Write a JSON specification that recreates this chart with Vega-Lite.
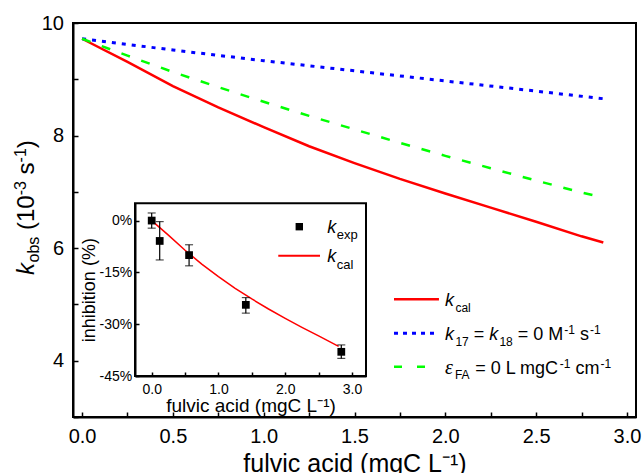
{
  "$schema": "https://vega.github.io/schema/vega-lite/v6.json",
  "width": 563,
  "height": 394,
  "autosize": {"type": "none"},
  "padding": {"left": 73, "top": 23, "right": 8, "bottom": 56},
  "config": {
    "font": "Liberation Sans",
    "view": {"stroke": "black", "strokeWidth": 2},
    "axis": {"grid": false, "labelColor": "black", "titleColor": "black", "tickColor": "black", "domainColor": "black", "domainWidth": 2, "tickWidth": 1.5, "labelFlush": false, "labelOverlap": false, "titleFontWeight": "normal", "labelFont": "Liberation Sans", "titleFont": "Liberation Sans"},
    "text": {"color": "black"}
  },
  "data": {"values": [{}]},
  "datasets": {
    "curves": [
      {"series": "cal", "x": 0, "y": 9.72}, {"series": "cal", "x": 0.25, "y": 9.31}, {"series": "cal", "x": 0.5, "y": 8.88}, {"series": "cal", "x": 0.75, "y": 8.50}, {"series": "cal", "x": 1.0, "y": 8.15}, {"series": "cal", "x": 1.25, "y": 7.81}, {"series": "cal", "x": 1.5, "y": 7.51}, {"series": "cal", "x": 1.75, "y": 7.23}, {"series": "cal", "x": 2.0, "y": 6.97}, {"series": "cal", "x": 2.25, "y": 6.72}, {"series": "cal", "x": 2.5, "y": 6.47}, {"series": "cal", "x": 2.75, "y": 6.21}, {"series": "cal", "x": 2.87, "y": 6.10},
      {"series": "k17", "x": 0, "y": 9.72}, {"series": "k17", "x": 0.5, "y": 9.52}, {"series": "k17", "x": 1.0, "y": 9.33}, {"series": "k17", "x": 1.5, "y": 9.15}, {"series": "k17", "x": 2.0, "y": 8.97}, {"series": "k17", "x": 2.5, "y": 8.79}, {"series": "k17", "x": 2.87, "y": 8.655},
      {"series": "eps", "x": 0, "y": 9.72}, {"series": "eps", "x": 0.25, "y": 9.42}, {"series": "eps", "x": 0.5, "y": 9.13}, {"series": "eps", "x": 0.75, "y": 8.86}, {"series": "eps", "x": 1.0, "y": 8.60}, {"series": "eps", "x": 1.25, "y": 8.35}, {"series": "eps", "x": 1.5, "y": 8.11}, {"series": "eps", "x": 1.75, "y": 7.87}, {"series": "eps", "x": 2.0, "y": 7.64}, {"series": "eps", "x": 2.25, "y": 7.42}, {"series": "eps", "x": 2.5, "y": 7.20}, {"series": "eps", "x": 2.75, "y": 6.99}, {"series": "eps", "x": 2.87, "y": 6.90}
    ],
    "inset_points": [
      {"x": 0, "y": 0, "lo": -2.2, "hi": 2.2},
      {"x": 0.12, "y": -5.9, "lo": -11.4, "hi": -0.3},
      {"x": 0.56, "y": -10.0, "lo": -13.1, "hi": -7.0},
      {"x": 1.41, "y": -24.4, "lo": -26.8, "hi": -22.3},
      {"x": 2.84, "y": -38.0, "lo": -39.9, "hi": -36.0}
    ],
    "inset_curve": [
      {"x": 0, "y": 0}, {"x": 0.25, "y": -4.2}, {"x": 0.5, "y": -8.6}, {"x": 0.75, "y": -12.6}, {"x": 1.0, "y": -16.2}, {"x": 1.25, "y": -19.6}, {"x": 1.5, "y": -22.7}, {"x": 1.75, "y": -25.6}, {"x": 2.0, "y": -28.3}, {"x": 2.25, "y": -30.9}, {"x": 2.5, "y": -33.4}, {"x": 2.8, "y": -36.4}
    ]
  },
  "layer": [
    {
      "data": {"name": "curves"},
      "transform": [{"filter": "datum.series == 'cal'"}],
      "mark": {"type": "line", "color": "#ff0000", "strokeWidth": 2.5},
      "encoding": {
        "x": {"field": "x", "type": "quantitative", "scale": {"domain": [-0.05, 3.05], "nice": false, "zero": false},
          "axis": {"orient": "bottom", "values": [0, 0.25, 0.5, 0.75, 1, 1.25, 1.5, 1.75, 2, 2.25, 2.5, 2.75, 3], "labelExpr": "(datum.value * 2) % 1 == 0 ? format(datum.value, '.1f') : ''", "title": "fulvic acid (mgC L⁻¹)", "titleFontSize": 25, "titlePadding": 5, "labelFontSize": 20, "labelPadding": 14.5, "tickSize": -5}},
        "y": {"field": "y", "type": "quantitative", "scale": {"domain": [3, 10], "nice": false, "zero": false},
          "axis": {"orient": "left", "values": [3, 4, 5, 6, 7, 8, 9, 10], "labelExpr": "datum.value % 2 == 0 ? format(datum.value, 'd') : ''", "title": null, "labelFontSize": 20, "labelPadding": 14.5, "tickSize": -5}}
      }
    },
    {
      "data": {"name": "curves"},
      "transform": [{"filter": "datum.series == 'k17'"}],
      "mark": {"type": "line", "color": "#0000ff", "strokeWidth": 3, "strokeDash": [4, 6]},
      "encoding": {"x": {"field": "x", "type": "quantitative", "scale": {"domain": [-0.05, 3.05], "nice": false, "zero": false}, "axis": null}, "y": {"field": "y", "type": "quantitative", "scale": {"domain": [3, 10], "nice": false, "zero": false}, "axis": null}}
    },
    {
      "data": {"name": "curves"},
      "transform": [{"filter": "datum.series == 'eps'"}],
      "mark": {"type": "line", "color": "#00ff00", "strokeWidth": 2.5, "strokeDash": [9, 12]},
      "encoding": {"x": {"field": "x", "type": "quantitative", "scale": {"domain": [-0.05, 3.05], "nice": false, "zero": false}, "axis": null}, "y": {"field": "y", "type": "quantitative", "scale": {"domain": [3, 10], "nice": false, "zero": false}, "axis": null}}
    },
    {"mark": {"type": "rule", "color": "#ff0000", "strokeWidth": 2.5}, "encoding": {"x": {"datum": 1.7175, "type": "quantitative", "scale": {"domain": [-0.05, 3.05], "nice": false, "zero": false}, "axis": null}, "x2": {"datum": 1.965}, "y": {"datum": 5.091, "type": "quantitative", "scale": {"domain": [3, 10], "nice": false, "zero": false}, "axis": null}}},
    {"mark": {"type": "rule", "color": "#0000ff", "strokeWidth": 3, "strokeDash": [4, 5]}, "encoding": {"x": {"datum": 1.7175, "type": "quantitative", "scale": {"domain": [-0.05, 3.05], "nice": false, "zero": false}, "axis": null}, "x2": {"datum": 1.965}, "y": {"datum": 4.487, "type": "quantitative", "scale": {"domain": [3, 10], "nice": false, "zero": false}, "axis": null}}},
    {"mark": {"type": "rule", "color": "#00ff00", "strokeWidth": 2.5, "strokeDash": [8, 15]}, "encoding": {"x": {"datum": 1.7175, "type": "quantitative", "scale": {"domain": [-0.05, 3.05], "nice": false, "zero": false}, "axis": null}, "x2": {"datum": 1.965}, "y": {"datum": 3.894, "type": "quantitative", "scale": {"domain": [3, 10], "nice": false, "zero": false}, "axis": null}}},

    {"mark": {"type": "text", "text": "k", "fontStyle": "italic", "fontSize": 18, "align": "left", "baseline": "alphabetic", "dx": 0, "dy": 7}, "encoding": {"x": {"datum": 1.998, "type": "quantitative", "scale": {"domain": [-0.05, 3.05], "nice": false, "zero": false}, "axis": null}, "y": {"datum": 5.091, "type": "quantitative", "scale": {"domain": [3, 10], "nice": false, "zero": false}, "axis": null}}},
    {"mark": {"type": "text", "text": "cal", "fontSize": 12, "align": "left", "baseline": "alphabetic", "dx": 10.5, "dy": 12.5}, "encoding": {"x": {"datum": 1.998, "type": "quantitative", "scale": {"domain": [-0.05, 3.05], "nice": false, "zero": false}, "axis": null}, "y": {"datum": 5.091, "type": "quantitative", "scale": {"domain": [3, 10], "nice": false, "zero": false}, "axis": null}}},
    {"mark": {"type": "text", "text": "k", "fontStyle": "italic", "fontSize": 18, "align": "left", "baseline": "alphabetic", "dx": 0, "dy": 7}, "encoding": {"x": {"datum": 1.998, "type": "quantitative", "scale": {"domain": [-0.05, 3.05], "nice": false, "zero": false}, "axis": null}, "y": {"datum": 4.487, "type": "quantitative", "scale": {"domain": [3, 10], "nice": false, "zero": false}, "axis": null}}},
    {"mark": {"type": "text", "text": "17", "fontSize": 12, "align": "left", "baseline": "alphabetic", "dx": 10.5, "dy": 12.5}, "encoding": {"x": {"datum": 1.998, "type": "quantitative", "scale": {"domain": [-0.05, 3.05], "nice": false, "zero": false}, "axis": null}, "y": {"datum": 4.487, "type": "quantitative", "scale": {"domain": [3, 10], "nice": false, "zero": false}, "axis": null}}},
    {"mark": {"type": "text", "text": "=", "fontSize": 18, "align": "left", "baseline": "alphabetic", "dx": 28.8, "dy": 7}, "encoding": {"x": {"datum": 1.998, "type": "quantitative", "scale": {"domain": [-0.05, 3.05], "nice": false, "zero": false}, "axis": null}, "y": {"datum": 4.487, "type": "quantitative", "scale": {"domain": [3, 10], "nice": false, "zero": false}, "axis": null}}},
    {"mark": {"type": "text", "text": "k", "fontStyle": "italic", "fontSize": 18, "align": "left", "baseline": "alphabetic", "dx": 44.3, "dy": 7}, "encoding": {"x": {"datum": 1.998, "type": "quantitative", "scale": {"domain": [-0.05, 3.05], "nice": false, "zero": false}, "axis": null}, "y": {"datum": 4.487, "type": "quantitative", "scale": {"domain": [3, 10], "nice": false, "zero": false}, "axis": null}}},
    {"mark": {"type": "text", "text": "18", "fontSize": 12, "align": "left", "baseline": "alphabetic", "dx": 54.5, "dy": 12.5}, "encoding": {"x": {"datum": 1.998, "type": "quantitative", "scale": {"domain": [-0.05, 3.05], "nice": false, "zero": false}, "axis": null}, "y": {"datum": 4.487, "type": "quantitative", "scale": {"domain": [3, 10], "nice": false, "zero": false}, "axis": null}}},
    {"mark": {"type": "text", "text": "= 0 M", "fontSize": 18, "align": "left", "baseline": "alphabetic", "dx": 72.8, "dy": 7}, "encoding": {"x": {"datum": 1.998, "type": "quantitative", "scale": {"domain": [-0.05, 3.05], "nice": false, "zero": false}, "axis": null}, "y": {"datum": 4.487, "type": "quantitative", "scale": {"domain": [3, 10], "nice": false, "zero": false}, "axis": null}}},
    {"mark": {"type": "text", "text": "-1", "fontSize": 12, "align": "left", "baseline": "alphabetic", "dx": 119.3, "dy": 1}, "encoding": {"x": {"datum": 1.998, "type": "quantitative", "scale": {"domain": [-0.05, 3.05], "nice": false, "zero": false}, "axis": null}, "y": {"datum": 4.487, "type": "quantitative", "scale": {"domain": [3, 10], "nice": false, "zero": false}, "axis": null}}},
    {"mark": {"type": "text", "text": "s", "fontSize": 18, "align": "left", "baseline": "alphabetic", "dx": 135, "dy": 7}, "encoding": {"x": {"datum": 1.998, "type": "quantitative", "scale": {"domain": [-0.05, 3.05], "nice": false, "zero": false}, "axis": null}, "y": {"datum": 4.487, "type": "quantitative", "scale": {"domain": [3, 10], "nice": false, "zero": false}, "axis": null}}},
    {"mark": {"type": "text", "text": "-1", "fontSize": 12, "align": "left", "baseline": "alphabetic", "dx": 145, "dy": 1}, "encoding": {"x": {"datum": 1.998, "type": "quantitative", "scale": {"domain": [-0.05, 3.05], "nice": false, "zero": false}, "axis": null}, "y": {"datum": 4.487, "type": "quantitative", "scale": {"domain": [3, 10], "nice": false, "zero": false}, "axis": null}}},
    {"mark": {"type": "text", "text": "ε", "font": "Liberation Serif", "fontStyle": "italic", "fontSize": 20, "align": "left", "baseline": "alphabetic", "dx": 0, "dy": 7}, "encoding": {"x": {"datum": 1.998, "type": "quantitative", "scale": {"domain": [-0.05, 3.05], "nice": false, "zero": false}, "axis": null}, "y": {"datum": 3.894, "type": "quantitative", "scale": {"domain": [3, 10], "nice": false, "zero": false}, "axis": null}}},
    {"mark": {"type": "text", "text": "FA", "fontSize": 12, "align": "left", "baseline": "alphabetic", "dx": 10, "dy": 12.5}, "encoding": {"x": {"datum": 1.998, "type": "quantitative", "scale": {"domain": [-0.05, 3.05], "nice": false, "zero": false}, "axis": null}, "y": {"datum": 3.894, "type": "quantitative", "scale": {"domain": [3, 10], "nice": false, "zero": false}, "axis": null}}},
    {"mark": {"type": "text", "text": "= 0 L mgC", "fontSize": 18, "align": "left", "baseline": "alphabetic", "dx": 30.3, "dy": 7}, "encoding": {"x": {"datum": 1.998, "type": "quantitative", "scale": {"domain": [-0.05, 3.05], "nice": false, "zero": false}, "axis": null}, "y": {"datum": 3.894, "type": "quantitative", "scale": {"domain": [3, 10], "nice": false, "zero": false}, "axis": null}}},
    {"mark": {"type": "text", "text": "-1", "fontSize": 12, "align": "left", "baseline": "alphabetic", "dx": 114.8, "dy": 1}, "encoding": {"x": {"datum": 1.998, "type": "quantitative", "scale": {"domain": [-0.05, 3.05], "nice": false, "zero": false}, "axis": null}, "y": {"datum": 3.894, "type": "quantitative", "scale": {"domain": [3, 10], "nice": false, "zero": false}, "axis": null}}},
    {"mark": {"type": "text", "text": "cm", "fontSize": 18, "align": "left", "baseline": "alphabetic", "dx": 130.5, "dy": 7}, "encoding": {"x": {"datum": 1.998, "type": "quantitative", "scale": {"domain": [-0.05, 3.05], "nice": false, "zero": false}, "axis": null}, "y": {"datum": 3.894, "type": "quantitative", "scale": {"domain": [3, 10], "nice": false, "zero": false}, "axis": null}}},
    {"mark": {"type": "text", "text": "-1", "fontSize": 12, "align": "left", "baseline": "alphabetic", "dx": 155.5, "dy": 1}, "encoding": {"x": {"datum": 1.998, "type": "quantitative", "scale": {"domain": [-0.05, 3.05], "nice": false, "zero": false}, "axis": null}, "y": {"datum": 3.894, "type": "quantitative", "scale": {"domain": [3, 10], "nice": false, "zero": false}, "axis": null}}},

    {"mark": {"type": "text", "text": "k", "fontStyle": "italic", "fontSize": 24, "angle": 270, "align": "left", "baseline": "alphabetic", "dx": 0, "dy": 0}, "encoding": {"x": {"datum": -0.265, "type": "quantitative", "scale": {"domain": [-0.05, 3.05], "nice": false, "zero": false}, "axis": null}, "y": {"datum": 5.523, "type": "quantitative", "scale": {"domain": [3, 10], "nice": false, "zero": false}, "axis": null}}},
    {"mark": {"type": "text", "text": "obs", "fontSize": 16, "angle": 270, "align": "left", "baseline": "alphabetic", "dx": 12.5, "dy": 5}, "encoding": {"x": {"datum": -0.265, "type": "quantitative", "scale": {"domain": [-0.05, 3.05], "nice": false, "zero": false}, "axis": null}, "y": {"datum": 5.523, "type": "quantitative", "scale": {"domain": [3, 10], "nice": false, "zero": false}, "axis": null}}},
    {"mark": {"type": "text", "text": "(10", "fontSize": 24, "angle": 270, "align": "left", "baseline": "alphabetic", "dx": 45, "dy": 0}, "encoding": {"x": {"datum": -0.265, "type": "quantitative", "scale": {"domain": [-0.05, 3.05], "nice": false, "zero": false}, "axis": null}, "y": {"datum": 5.523, "type": "quantitative", "scale": {"domain": [3, 10], "nice": false, "zero": false}, "axis": null}}},
    {"mark": {"type": "text", "text": "-3", "fontSize": 16, "angle": 270, "align": "left", "baseline": "alphabetic", "dx": 79.7, "dy": -8}, "encoding": {"x": {"datum": -0.265, "type": "quantitative", "scale": {"domain": [-0.05, 3.05], "nice": false, "zero": false}, "axis": null}, "y": {"datum": 5.523, "type": "quantitative", "scale": {"domain": [3, 10], "nice": false, "zero": false}, "axis": null}}},
    {"mark": {"type": "text", "text": "s", "fontSize": 24, "angle": 270, "align": "left", "baseline": "alphabetic", "dx": 100.6, "dy": 0}, "encoding": {"x": {"datum": -0.265, "type": "quantitative", "scale": {"domain": [-0.05, 3.05], "nice": false, "zero": false}, "axis": null}, "y": {"datum": 5.523, "type": "quantitative", "scale": {"domain": [3, 10], "nice": false, "zero": false}, "axis": null}}},
    {"mark": {"type": "text", "text": "-1", "fontSize": 16, "angle": 270, "align": "left", "baseline": "alphabetic", "dx": 112.6, "dy": -8}, "encoding": {"x": {"datum": -0.265, "type": "quantitative", "scale": {"domain": [-0.05, 3.05], "nice": false, "zero": false}, "axis": null}, "y": {"datum": 5.523, "type": "quantitative", "scale": {"domain": [3, 10], "nice": false, "zero": false}, "axis": null}}},
    {"mark": {"type": "text", "text": ")", "fontSize": 24, "angle": 270, "align": "left", "baseline": "alphabetic", "dx": 126.8, "dy": 0}, "encoding": {"x": {"datum": -0.265, "type": "quantitative", "scale": {"domain": [-0.05, 3.05], "nice": false, "zero": false}, "axis": null}, "y": {"datum": 5.523, "type": "quantitative", "scale": {"domain": [3, 10], "nice": false, "zero": false}, "axis": null}}},

    {
      "mark": {"type": "rect", "fill": "white", "stroke": "black", "strokeWidth": 2},
      "encoding": {
        "x": {"datum": -0.25, "type": "quantitative", "scale": {"domain": [-0.25, 3.21], "range": [62, 293], "nice": false, "zero": false}, "axis": null},
        "x2": {"datum": 3.21},
        "y": {"datum": -45, "type": "quantitative", "scale": {"domain": [-45, 5], "range": [353, 180.3], "nice": false, "zero": false}, "axis": null},
        "y2": {"datum": 5}
      }
    },
    {
      "data": {"name": "inset_curve"},
      "mark": {"type": "line", "color": "#ff0000", "strokeWidth": 1.5},
      "encoding": {
        "x": {"field": "x", "type": "quantitative", "scale": {"domain": [-0.25, 3.21], "range": [62, 293], "nice": false, "zero": false},
          "axis": {"orient": "bottom", "offset": -41, "zindex": 1, "values": [0, 0.5, 1, 1.5, 2, 2.5, 3], "labelExpr": "datum.value % 1 == 0 ? format(datum.value, '.1f') : ''", "title": "fulvic acid (mgC L⁻¹)", "titleFontSize": 19, "titlePadding": 0, "labelFontSize": 14, "labelPadding": 10.5, "tickSize": -4}},
        "y": {"field": "y", "type": "quantitative", "scale": {"domain": [-45, 5], "range": [353, 180.3], "nice": false, "zero": false},
          "axis": {"orient": "left", "offset": -62, "zindex": 1, "values": [-45, -30, -15, 0], "labelExpr": "datum.value + '%'", "title": "inhibition (%)", "titleFontSize": 18, "titlePadding": 1, "labelFontSize": 14, "labelPadding": 7.3, "tickSize": -4}}
      }
    },
    {
      "data": {"name": "inset_points"},
      "mark": {"type": "rule", "color": "black", "strokeWidth": 1.2},
      "encoding": {"x": {"field": "x", "type": "quantitative", "scale": {"domain": [-0.25, 3.21], "range": [62, 293], "nice": false, "zero": false}, "axis": null}, "y": {"field": "lo", "type": "quantitative", "scale": {"domain": [-45, 5], "range": [353, 180.3], "nice": false, "zero": false}, "axis": null}, "y2": {"field": "hi"}}
    },
    {
      "data": {"name": "inset_points"},
      "mark": {"type": "tick", "orient": "horizontal", "color": "black", "size": 8, "thickness": 1.2},
      "encoding": {"x": {"field": "x", "type": "quantitative", "scale": {"domain": [-0.25, 3.21], "range": [62, 293], "nice": false, "zero": false}, "axis": null}, "y": {"field": "lo", "type": "quantitative", "scale": {"domain": [-45, 5], "range": [353, 180.3], "nice": false, "zero": false}, "axis": null}}
    },
    {
      "data": {"name": "inset_points"},
      "mark": {"type": "tick", "orient": "horizontal", "color": "black", "size": 8, "thickness": 1.2},
      "encoding": {"x": {"field": "x", "type": "quantitative", "scale": {"domain": [-0.25, 3.21], "range": [62, 293], "nice": false, "zero": false}, "axis": null}, "y": {"field": "hi", "type": "quantitative", "scale": {"domain": [-45, 5], "range": [353, 180.3], "nice": false, "zero": false}, "axis": null}}
    },
    {
      "data": {"name": "inset_points"},
      "mark": {"type": "point", "shape": "square", "filled": true, "color": "black", "opacity": 1, "size": 60},
      "encoding": {"x": {"field": "x", "type": "quantitative", "scale": {"domain": [-0.25, 3.21], "range": [62, 293], "nice": false, "zero": false}, "axis": null}, "y": {"field": "y", "type": "quantitative", "scale": {"domain": [-45, 5], "range": [353, 180.3], "nice": false, "zero": false}, "axis": null}}
    },
    {"mark": {"type": "point", "shape": "square", "filled": true, "color": "black", "opacity": 1, "size": 55}, "encoding": {"x": {"datum": 2.211, "type": "quantitative", "scale": {"domain": [-0.25, 3.21], "range": [62, 293], "nice": false, "zero": false}, "axis": null}, "y": {"datum": -1.77, "type": "quantitative", "scale": {"domain": [-45, 5], "range": [353, 180.3], "nice": false, "zero": false}, "axis": null}}},
    {"mark": {"type": "rule", "color": "#ff0000", "strokeWidth": 2}, "encoding": {"x": {"datum": 1.896, "type": "quantitative", "scale": {"domain": [-0.25, 3.21], "range": [62, 293], "nice": false, "zero": false}, "axis": null}, "x2": {"datum": 2.521}, "y": {"datum": -10.16, "type": "quantitative", "scale": {"domain": [-45, 5], "range": [353, 180.3], "nice": false, "zero": false}, "axis": null}}},
    {"mark": {"type": "text", "text": "k", "fontStyle": "italic", "fontSize": 18, "align": "left", "baseline": "alphabetic", "dx": 0, "dy": 6.6}, "encoding": {"x": {"datum": 2.63, "type": "quantitative", "scale": {"domain": [-0.25, 3.21], "range": [62, 293], "nice": false, "zero": false}, "axis": null}, "y": {"datum": -1.77, "type": "quantitative", "scale": {"domain": [-45, 5], "range": [353, 180.3], "nice": false, "zero": false}, "axis": null}}},
    {"mark": {"type": "text", "text": "exp", "fontSize": 13, "align": "left", "baseline": "alphabetic", "dx": 9.5, "dy": 12.5}, "encoding": {"x": {"datum": 2.63, "type": "quantitative", "scale": {"domain": [-0.25, 3.21], "range": [62, 293], "nice": false, "zero": false}, "axis": null}, "y": {"datum": -1.77, "type": "quantitative", "scale": {"domain": [-45, 5], "range": [353, 180.3], "nice": false, "zero": false}, "axis": null}}},
    {"mark": {"type": "text", "text": "k", "fontStyle": "italic", "fontSize": 18, "align": "left", "baseline": "alphabetic", "dx": 0, "dy": 6.6}, "encoding": {"x": {"datum": 2.63, "type": "quantitative", "scale": {"domain": [-0.25, 3.21], "range": [62, 293], "nice": false, "zero": false}, "axis": null}, "y": {"datum": -10.16, "type": "quantitative", "scale": {"domain": [-45, 5], "range": [353, 180.3], "nice": false, "zero": false}, "axis": null}}},
    {"mark": {"type": "text", "text": "cal", "fontSize": 13, "align": "left", "baseline": "alphabetic", "dx": 9.5, "dy": 13}, "encoding": {"x": {"datum": 2.63, "type": "quantitative", "scale": {"domain": [-0.25, 3.21], "range": [62, 293], "nice": false, "zero": false}, "axis": null}, "y": {"datum": -10.16, "type": "quantitative", "scale": {"domain": [-45, 5], "range": [353, 180.3], "nice": false, "zero": false}, "axis": null}}}
  ],
  "resolve": {"scale": {"x": "independent", "y": "independent"}}
}
